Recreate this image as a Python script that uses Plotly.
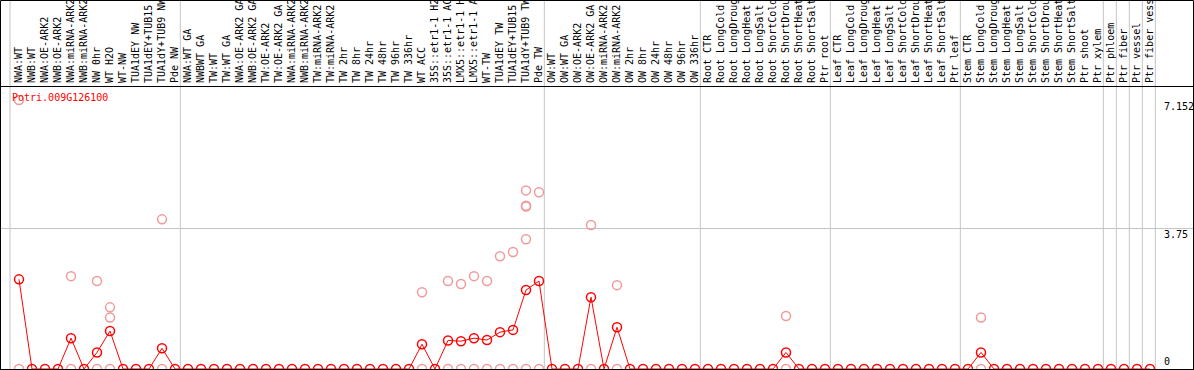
import plotly.graph_objects as go

labels = [
    "NWA:WT", "NWB:WT", "NWA:OE-ARK2", "NWB:OE-ARK2", "NWA:miRNA-ARK2", "NWB:miRNA-ARK2",
    "NW 0hr", "WT H2O", "WT-NW", "TUA1dEY NW", "TUA1dEY+TUB15 NW", "TUA1dY+TUB9 NW", "Pde NW",
    "NWA:WT GA", "NWBWT GA", "TW:WT", "TW:WT GA", "NWA:OE-ARK2 GA", "NWB:OE-ARK2 GA",
    "TW:OE-ARK2", "TW:OE-ARK2 GA", "NWA:miRNA-ARK2", "NWB:miRNA-ARK2", "TW:miRNA-ARK2",
    "TW:miRNA-ARK2", "TW 2hr", "TW 8hr", "TW 24hr", "TW 48hr", "TW 96hr", "TW 336hr",
    "WT ACC", "35S::etr1-1 H2O", "35S::etr1-1 ACC", "LMX5::etr1-1 H2O", "LMX5::etr1-1 ACC",
    "WT-TW", "TUA1dEY TW", "TUA1dEY+TUB15 TW", "TUA1dY+TUB9 TW", "Pde TW",
    "OW:WT", "OW:WT GA", "OW:OE-ARK2", "OW:OE-ARK2 GA", "OW:miRNA-ARK2", "OW:miRNA-ARK2",
    "OW 2hr", "OW 8hr", "OW 24hr", "OW 48hr", "OW 96hr", "OW 336hr",
    "Root CTR", "Root LongCold", "Root LongDrought", "Root LongHeat", "Root LongSalt",
    "Root ShortCold", "Root ShortDrought", "Root ShortHeat", "Root ShortSalt", "Ptr root",
    "Leaf CTR", "Leaf LongCold", "Leaf LongDrought", "Leaf LongHeat", "Leaf LongSalt",
    "Leaf ShortCold", "Leaf ShortDrought", "Leaf ShortHeat", "Leaf ShortSalt", "Ptr leaf",
    "Stem CTR", "Stem LongCold", "Stem LongDrought", "Stem LongHeat", "Stem LongSalt",
    "Stem ShortCold", "Stem ShortDrought", "Stem ShortHeat", "Stem ShortSalt", "Ptr shoot",
    "Ptr xylem", "Ptr phloem", "Ptr fiber", "Ptr vessel", "Ptr fiber vessel",
]

mean_values = [
    2.384, 0, 0, 0, 0.82, 0, 0.44, 1.01, 0, 0, 0, 0.55, 0,
    0, 0, 0, 0, 0, 0, 0, 0, 0, 0, 0, 0, 0, 0, 0, 0, 0, 0,
    0.66, 0, 0.76, 0.74, 0.82, 0.77, 0.98, 1.04, 2.10, 2.34,
    0, 0, 0, 1.91, 0, 1.11, 0, 0, 0, 0, 0, 0,
    0, 0, 0, 0, 0, 0, 0.44, 0, 0, 0,
    0, 0, 0, 0, 0, 0, 0, 0, 0, 0,
    0, 0.44, 0, 0, 0, 0, 0, 0, 0, 0,
    0, 0, 0, 0, 0,
]

rep_positions = [
    0, 0, 4, 4, 6, 6,
    7, 7, 7, 11, 11,
    31, 31, 33, 33, 34, 34,
    35, 35, 36, 36, 37, 37,
    38, 38,
    39, 39, 39, 39, 39,
    40, 40,
    44, 44, 46, 46,
    59, 59, 74, 74,
]
rep_values = [
    7.152, 0, 2.47, 0, 2.34, 0,
    1.64, 1.37, 0, 3.98, 0,
    2.04, 0, 2.34, 0, 2.26, 0,
    2.47, 0, 2.34, 0, 3.00, 0,
    3.11, 0,
    3.45, 4.32, 4.34, 4.75, 0,
    4.70, 0,
    3.83, 0, 2.23, 0,
    1.41, 0, 1.37, 0,
]

gene = "Potri.009G126100"
y_labels = ["7.152", "3.75", "0"]
y_label_values = [7.152, 3.75, 0]

W, H = 1194, 370
ML, MR, MT, MB = 1, 1, 87, 1
FIRST_PX, STEP_PX = 19, 13
x0 = (ML - FIRST_PX) / STEP_PX
x1 = (W - MR - FIRST_PX) / STEP_PX
YMAX = 7.5
PW = W - ML - MR
PH = H - MT - MB
MAX_CHARS = 14  # header column shows only this many characters

def xpaper(d):
    return (d - x0) / (x1 - x0)

def ypaper_px(py):
    return (H - MB - py) / PH

FONT = "DejaVu Sans Mono"
idx = list(range(len(labels)))
shown_labels = [l[:MAX_CHARS] for l in labels]

fig = go.Figure()
fig.add_trace(go.Scatter(
    x=rep_positions, y=rep_values, mode="markers",
    marker=dict(symbol="circle-open", size=9, color="#f09a9a", line=dict(width=1.5)),
    hoverinfo="skip", showlegend=False, cliponaxis=False,
))
fig.add_trace(go.Scatter(
    x=idx, y=mean_values, mode="lines+markers",
    line=dict(color="#ff0000", width=1),
    marker=dict(symbol="circle-open", size=9, color="#ff0000", line=dict(width=1.5)),
    showlegend=False, cliponaxis=False,
))

shapes = []
sep_after = [12, 40, 52, 62, 72, 83, 84, 85, 86, 87]
sep_pos = [-0.69] + [s + 0.41 for s in sep_after]
for s in sep_pos:
    shapes.append(dict(type="line", xref="paper", yref="paper", x0=xpaper(s), x1=xpaper(s),
                       y0=0, y1=ypaper_px(0), line=dict(color="#c4c4c4", width=1), layer="below"))
# outer frame
shapes.append(dict(type="rect", xref="paper", yref="paper",
                   x0=-0.5 / PW, x1=1 + 0.5 / PW,
                   y0=ypaper_px(369.5), y1=ypaper_px(0.5),
                   line=dict(color="black", width=1), fillcolor="rgba(0,0,0,0)"))

annotations = [dict(text=gene, xref="paper", yref="paper", x=xpaper(-0.69), y=ypaper_px(97),
                    xanchor="left", yanchor="middle", showarrow=False,
                    font=dict(family=FONT, size=10, color="#ff0000"))]
for t, v in zip(y_labels, y_label_values):
    annotations.append(dict(text=t, xref="paper", yref="y", x=xpaper((1162 - FIRST_PX) / STEP_PX), y=v,
                            xanchor="left", yanchor="bottom" if v == 0 else "top",
                            yshift=0 if v == 0 else 1,
                            showarrow=False, font=dict(family=FONT, size=10, color="#000000")))

fig.update_layout(
    width=W, height=H, autosize=False,
    margin=dict(l=ML, r=MR, t=MT, b=MB, pad=0),
    paper_bgcolor="white", plot_bgcolor="white",
    shapes=shapes, annotations=annotations,
    xaxis=dict(range=[x0, x1], side="top", tickmode="array", tickvals=idx, ticktext=shown_labels,
               tickangle=-90, tickfont=dict(family=FONT, size=10, color="black"),
               showgrid=False, zeroline=False, showline=True, mirror=True, linecolor="black",
               linewidth=1, ticks="", automargin=False, ticklabelstandoff=1),
    yaxis=dict(range=[0, YMAX], tickmode="array", tickvals=[3.75], showticklabels=False,
               showgrid=True, gridcolor="#c4c4c4", gridwidth=1, zeroline=False, automargin=False,
               showline=True, mirror=True, linecolor="black", linewidth=1, ticks=""),
)

fig.write_html("out.html", config={"displayModeBar": False},
               post_script="document.body.style.margin='0';document.body.style.overflow='hidden';")
